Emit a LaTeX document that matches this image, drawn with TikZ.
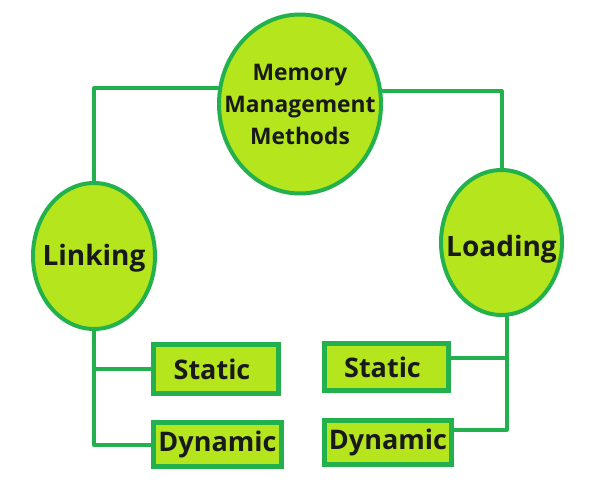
\documentclass[tikz,border=0pt]{standalone}
\usepackage{fontspec}
\setmainfont{Open Sans}
\usetikzlibrary{shapes.geometric}
\definecolor{paintgreen}{RGB}{34,177,76}
\definecolor{paintlime}{RGB}{181,230,29}
\begin{document}
\begin{tikzpicture}[x=1pt, y=-1pt, line join=round, line cap=round,
		oval/.style={ellipse, draw=paintgreen, line width=4pt, fill=paintlime, inner sep=0pt},
		ovaltext/.style={text=black!90, font=\bfseries\fontsize{28}{32}\selectfont, align=center},
		kind/.style={rectangle, draw=paintgreen, line width=5pt, line join=miter, fill=paintlime, inner sep=0pt, text=black!90, font=\bfseries\fontsize{27}{32}\selectfont},
		link/.style={draw=paintgreen, line width=4pt}]
	\useasboundingbox (0,0) rectangle (593,492);
	% Nut goc
	\node[oval, minimum width=162pt, minimum height=179pt,
		label={[ovaltext, font=\bfseries\fontsize{22.8}{32}\selectfont]center:Memory\\Management\\Methods}] (mmm) at (300,104) {};
	\node[oval, minimum width=122pt, minimum height=146pt, label={[ovaltext, yshift=-2pt]center:Linking}] (linking) at (94,256) {};
	\node[oval, minimum width=121pt, minimum height=145pt, label={[ovaltext, yshift=-7pt]center:Loading}] (loading) at (501.5,242.5) {};
	% Cac hop
	\node[kind, minimum width=125pt, minimum height=49pt] (lstatic) at (216,369) {\hspace*{-8pt}Static};
	\node[kind, minimum width=128pt, minimum height=44pt] (ldynamic) at (217.5,444.5) {\raisebox{-4pt}{Dynamic}};
	\node[kind, minimum width=124pt, minimum height=47pt] (rstatic) at (386.5,367) {\hspace*{-8pt}Static};
	\node[kind, minimum width=127pt, minimum height=44pt] (rdynamic) at (388,442.5) {\raisebox{-4pt}{Dynamic}};
	% Duong noi
	\draw[link] (linking.north) |- (mmm.169);
	\draw[link] (mmm.9) -| (loading.north);
	\draw[link] (linking.south) |- (ldynamic.west);
	\draw[link] (lstatic.west) -- (lstatic.west -| linking.south);
	\draw[link] ([xshift=5pt]loading.south) |- ([yshift=13pt]rdynamic.east);
	\draw[link] ([yshift=9pt]rstatic.east) -- ([yshift=9pt,xshift=5pt]rstatic.east -| loading.south);
\end{tikzpicture}
\end{document}
